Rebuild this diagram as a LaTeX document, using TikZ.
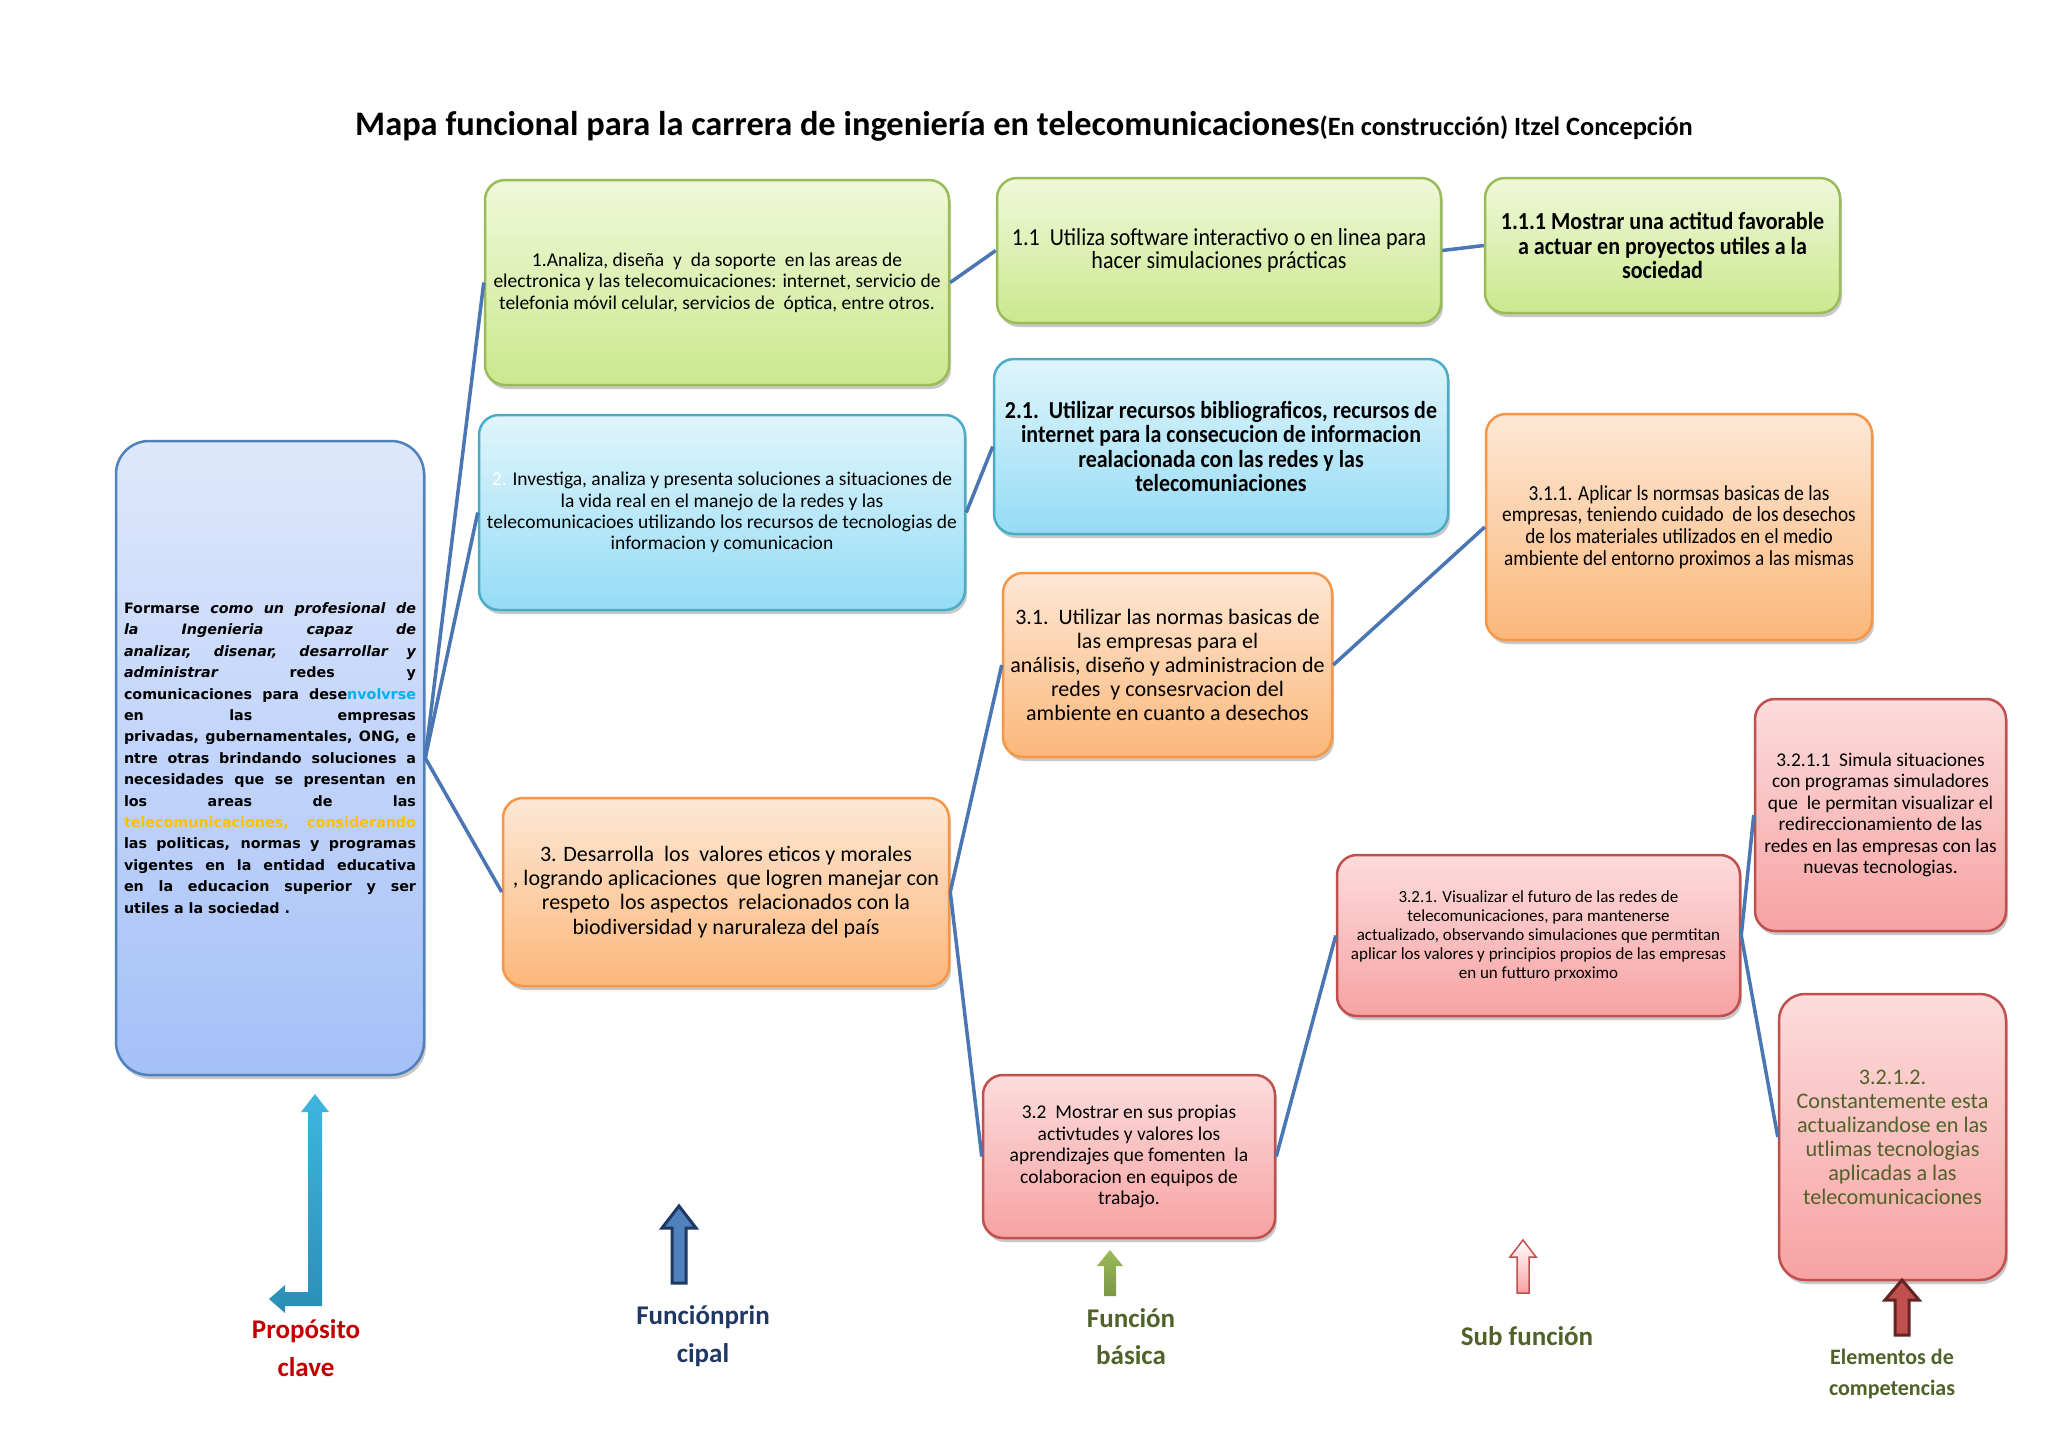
\documentclass[tikz,border=0pt]{standalone}
\usepackage{fontspec}
\setmainfont{Carlito}
\newfontfamily\dejavu{DejaVu Sans}
\newfontfamily\narrowf[FakeStretch=0.9]{Carlito}
\usetikzlibrary{shadows}
\definecolor{gTop}{HTML}{F0F8DA}\definecolor{gBot}{HTML}{CBE88E}\definecolor{gLine}{HTML}{9BBB59}
\definecolor{cTop}{HTML}{E0F5FC}\definecolor{cBot}{HTML}{95DCF5}\definecolor{cLine}{HTML}{4BACC6}
\definecolor{oTop}{HTML}{FDE8D6}\definecolor{oBot}{HTML}{FBB77A}\definecolor{oLine}{HTML}{F79646}
\definecolor{rTop}{HTML}{FCDCDC}\definecolor{rBot}{HTML}{F7A2A2}\definecolor{rLine}{HTML}{C0504D}
\definecolor{bTop}{HTML}{DEE8FB}\definecolor{bBot}{HTML}{A5C0F8}\definecolor{bLine}{HTML}{4F81BD}
\definecolor{connC}{HTML}{4A76B4}
\definecolor{cyanT}{HTML}{00B0F0}\definecolor{goldT}{HTML}{FFC000}
\definecolor{redL}{HTML}{C00000}\definecolor{navyL}{HTML}{1F3864}\definecolor{oliveL}{HTML}{4F6228}
\definecolor{arrTop}{HTML}{3EB6E0}\definecolor{arrBot}{HTML}{2B8FB5}\definecolor{darkRed}{HTML}{632523}
\newcommand\uparrowpoly[7]{%
  \path[#1] ({#2-#5},#4) -- ({#2-#5},{#3+#7}) -- ({#2-#6},{#3+#7}) -- (#2,#3) -- ({#2+#6},{#3+#7}) -- ({#2+#5},{#3+#7}) -- ({#2+#5},#4) -- cycle;}
\tikzset{
  box/.style={draw, line width=2.5pt, rounded corners=20pt, align=center, inner sep=4pt,
    drop shadow={shadow xshift=2pt, shadow yshift=-4pt, opacity=0.3, fill=black!70}},
  greenbox/.style={box, draw=gLine, top color=gTop, bottom color=gBot},
  cyanbox/.style={box, draw=cLine, top color=cTop, bottom color=cBot},
  orangebox/.style={box, draw=oLine, top color=oTop, bottom color=oBot},
  redbox/.style={box, draw=rLine, top color=rTop, bottom color=rBot},
  bluebox/.style={box, draw=bLine, top color=bTop, bottom color=bBot, rounded corners=33pt},
  conn/.style={draw=connC, line width=3.5pt},
  lbl/.style={align=center, inner sep=0pt, font=\bfseries\fontsize{27}{38}\selectfont},
}
\begin{document}
\begin{tikzpicture}[x=1pt,y=-1pt]
\useasboundingbox[fill=white] (0,0) rectangle (2048,1448);
% title
\node[inner sep=0pt] (title) at (1024,126) {\bfseries\fontsize{34.4}{40}\selectfont Mapa funcional para la carrera de ingeniería en telecomunicaciones{\fontsize{26.4}{30}\selectfont(En construcción) Itzel Concepción}};
% purpose box
\node[bluebox, minimum width=308pt, minimum height=634pt, text width=292pt, align=justify,
  font=\dejavu\bfseries\fontsize{14.3}{21.4}\selectfont] (P) at (270,758) {%
Formarse {\itshape como un profesional de\linebreak la Ingenieria capaz de\linebreak analizar, disenar, desarrollar y\linebreak administrar} redes y\linebreak comunicaciones para dese\textcolor{cyanT}{nvolvrse}\linebreak en las empresas\linebreak privadas, gubernamentales, ONG, e\linebreak ntre otras brindando soluciones a\linebreak necesidades que se presentan en\linebreak los areas de las\linebreak \textcolor{goldT}{telecomunicaciones, considerando}\linebreak las politicas, normas y programas\linebreak vigentes en la entidad educativa\linebreak en la educacion superior y ser\linebreak utiles a la sociedad .};
% main functions
\node[greenbox, minimum width=464pt, minimum height=205pt, font=\fontsize{19.5}{21.5}\selectfont] (f1) at (717,282.5)
 {1.Analiza, diseña\ \ y\ \ da soporte\ \ en las areas de\\electronica y las telecomuicaciones: internet, servicio de\\telefonia móvil celular, servicios de\ \ óptica, entre otros.};
\node[cyanbox, minimum width=486pt, minimum height=195pt, font=\fontsize{19.5}{21.3}\selectfont] (f2) at (722,512.5)
 {\textcolor{white}{2.} Investiga, analiza y presenta soluciones a situaciones de\\la vida real en el manejo de la redes y las\\telecomunicacioes utilizando los recursos de tecnologias de\\informacion y comunicacion};
\node[orangebox, minimum width=446pt, minimum height=188pt, font=\fontsize{22}{24.2}\selectfont] (f3) at (726,892)
 {3. Desarrolla\ \ los\ \ valores eticos y morales\\, logrando aplicaciones\ \ que logren manejar con\\respeto\ \ los aspectos\ \ relacionados con la\\biodiversidad y naruraleza del país};
% basic functions
\node[greenbox, minimum width=444pt, minimum height=145pt, font=\narrowf\fontsize{24.5}{23.5}\selectfont] (f11) at (1219,250.5)
 {1.1\ \ Utiliza software interactivo o en linea para\\hacer simulaciones prácticas};
\node[cyanbox, minimum width=454pt, minimum height=175pt, font=\narrowf\bfseries\fontsize{24.4}{24.4}\selectfont] (f21) at (1221,446.5)
 {2.1.\ \ Utilizar recursos bibliograficos, recursos de\\internet para la consecucion de informacion\\realacionada con las redes y las\\telecomuniaciones};
\node[orangebox, minimum width=329pt, minimum height=184pt, font=\fontsize{22}{24.2}\selectfont] (f31) at (1167.5,665)
 {3.1.\ \ Utilizar las normas basicas de\\las empresas para el\\análisis, diseño y administracion de\\redes\ \ y consesrvacion del\\ambiente en cuanto a desechos};
\node[redbox, minimum width=292pt, minimum height=163pt, font=\fontsize{19.5}{21.5}\selectfont] (f32) at (1129,1156.5)
 {3.2\ \ Mostrar en sus propias\\activtudes y valores los\\aprendizajes que fomenten\ \ la\\colaboracion en equipos de\\trabajo.};
% sub functions
\node[greenbox, minimum width=355pt, minimum height=135pt, font=\narrowf\bfseries\fontsize{24.5}{24.2}\selectfont] (f111) at (1662.5,245.5)
 {1.1.1 Mostrar una actitud favorable\\a actuar en proyectos utiles a la\\sociedad};
\node[orangebox, minimum width=386pt, minimum height=226pt, font=\narrowf\fontsize{21.4}{21.8}\selectfont] (f311) at (1679,527)
 {3.1.1. Aplicar ls normsas basicas de las\\empresas, teniendo cuidado\ \ de los desechos\\de los materiales utilizados en el medio\\ambiente del entorno proximos a las mismas};
\node[redbox, minimum width=403pt, minimum height=161pt, font=\fontsize{17}{19}\selectfont] (f321) at (1538.5,935.5)
 {3.2.1. Visualizar el futuro de las redes de\\telecomunicaciones, para mantenerse\\actualizado, observando simulaciones que permtitan\\aplicar los valores y principios propios de las empresas\\en un futturo prxoximo};
% elements
\node[redbox, minimum width=251pt, minimum height=232pt, font=\fontsize{19.4}{21.4}\selectfont] (e1) at (1880.5,815)
 {3.2.1.1\ \ Simula situaciones\\con programas simuladores\\que\ \ le permitan visualizar el\\redireccionamiento de las\\redes en las empresas con las\\nuevas tecnologias.};
\node[redbox, rounded corners=26pt, minimum width=227pt, minimum height=286pt, text=oliveL, font=\fontsize{22.2}{24}\selectfont] (e2) at (1892.5,1137)
 {3.2.1.2.\\Constantemente esta\\actualizandose en las\\utlimas tecnologias\\aplicadas a las\\telecomunicaciones};
% connectors
\draw[conn] (P.east) -- (f1.west);
\draw[conn] (P.east) -- (f2.west);
\draw[conn] (P.east) -- (f3.west);
\draw[conn] (f1.east) -- (f11.west);
\draw[conn] (f11.east) -- (f111.west);
\draw[conn] (f2.east) -- (f21.west);
\draw[conn] (f3.east) -- (f31.west);
\draw[conn] (f3.east) -- (f32.west);
\draw[conn] (f31.east) -- (f311.west);
\draw[conn] (f32.east) -- (f321.west);
\draw[conn] (f321.east) -- (e1.west);
\draw[conn] (f321.east) -- (e2.west);
% legend arrows
\path[top color=arrTop, bottom color=arrBot, draw=none]
  (308,1112) -- (301,1112) -- (315,1094) -- (329,1112) -- (322,1112) -- (322,1306) -- (285,1306) -- (285,1313) -- (269,1299) -- (285,1285) -- (285,1292) -- (308,1292) -- cycle;
\uparrowpoly{fill=bLine, draw=navyL, line width=3pt, line join=miter}{679}{1206}{1283}{7}{17}{22}
\uparrowpoly{top color=gLine, bottom color=gLine!80!black, draw=none}{1110}{1250}{1296}{6}{13}{16}
\uparrowpoly{top color=white, bottom color=rBot, draw=rLine, line width=1.5pt}{1523}{1240}{1293}{6}{13}{17}
\uparrowpoly{fill=rLine, draw=darkRed, line width=3pt, line join=miter}{1902}{1280}{1335}{7}{17}{20}
% legend labels
\node[lbl, text=redL] (lp) at (306,1348) {Propósito\\clave};
\node[lbl, text=navyL] (lfp) at (703,1336) {Funciónprin\\cipal};
\node[lbl, text=oliveL, font=\bfseries\fontsize{27}{37}\selectfont] (lfb) at (1131,1337) {Función\\básica};
\node[lbl, text=oliveL] (lsf) at (1527,1336) {Sub función};
\node[lbl, text=oliveL, font=\bfseries\fontsize{22}{31}\selectfont] (lec) at (1892,1374) {Elementos de\\competencias};
\end{tikzpicture}
\end{document}
